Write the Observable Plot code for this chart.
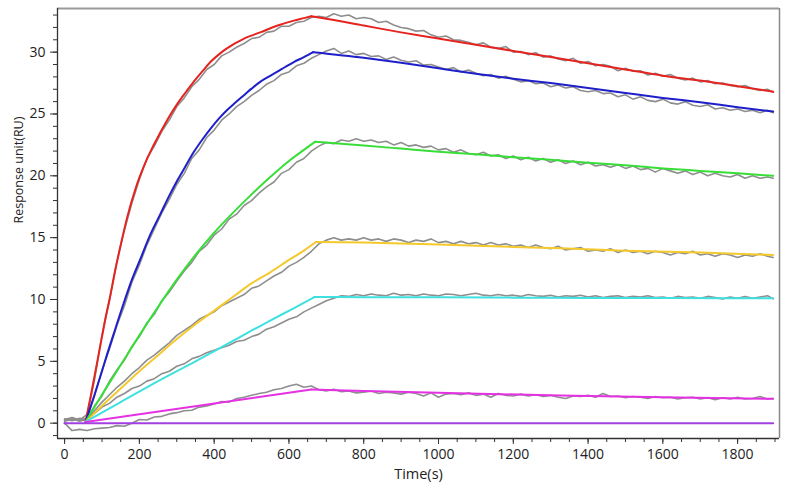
<!DOCTYPE html>
<html>
<head>
<meta charset="utf-8">
<script src="https://cdn.jsdelivr.net/npm/d3@7"></script>
<script src="https://cdn.jsdelivr.net/npm/@observablehq/plot@0.6"></script>
<style>
  html, body { margin: 0; padding: 0; background: #fff; }
  #chart { width: 793px; height: 489px; }
</style>
</head>
<body>
<div id="chart"></div>
<script>
// ---- tick labels ----
const xTickLabels = [0, 200, 400, 600, 800, 1000, 1200, 1400, 1600, 1800];
const xMinorTicks = [0,50,100,150,200,250,300,350,400,450,500,550,600,650,700,750,800,850,900,950,1000,1050,1100,1150,1200,1250,1300,1350,1400,1450,1500,1550,1600,1650,1700,1750,1800,1850,1900];
const yTickLabels = [0, 5, 10, 15, 20, 25, 30];
const yMinorTicks = [-1,0,1,2,3,4,5,6,7,8,9,10,11,12,13,14,15,16,17,18,19,20,21,22,23,24,25,26,27,28,29,30,31,32,33];

// ---- fitted curves (time s, response RU) ----
const redFitT = [56,70,80,90,100,110,120,135,150,167,190,211,235,256,280,301,325,345,370,390,412,434,480,523,570,613,640,660,700,800,900,1000,1100,1200,1300,1400,1500,1600,1700,1800,1895];
const redFitV = [0.1,2.2,3.8,5.4,7.0,8.6,10.0,12.3,14.4,16.6,19.0,20.7,22.3,23.5,24.8,25.8,26.8,27.6,28.5,29.2,29.8,30.3,31.1,31.6,32.15,32.55,32.75,32.9,32.7,32.15,31.6,31.1,30.6,30.1,29.6,29.1,28.6,28.1,27.7,27.25,26.8];
const blueFitT = [56,80,100,114,130,158,180,203,230,256,280,301,320,345,370,390,412,434,456,479,500,523,545,568,590,613,640,665,800,900,1000,1100,1200,1300,1400,1500,1600,1700,1800,1895];
const blueFitV = [0.1,2.3,4.2,5.6,7.1,9.7,11.6,13.3,15.3,16.9,18.4,19.6,20.6,21.9,23.0,23.8,24.6,25.3,25.9,26.5,27.05,27.6,28.0,28.4,28.8,29.2,29.6,30.0,29.55,29.15,28.7,28.25,27.85,27.5,27.1,26.7,26.3,25.95,25.55,25.2];
const greenFitT = [56,100,150,200,250,300,350,400,450,500,550,600,640,670,800,900,1000,1100,1200,1300,1400,1500,1600,1700,1800,1895];
const greenFitV = [0.1,2.3,4.7,7.1,9.4,11.6,13.6,15.4,17.0,18.5,19.9,21.2,22.1,22.75,22.45,22.2,21.95,21.75,21.5,21.3,21.05,20.85,20.6,20.4,20.2,20.0];
const yellowFitT = [56,100,150,200,250,300,350,400,450,500,550,600,640,672,800,1000,1200,1326,1500,1700,1895];
const yellowFitV = [0.1,1.4,2.8,4.2,5.5,6.8,8.0,9.1,10.2,11.3,12.2,13.2,13.95,14.65,14.6,14.45,14.25,14.15,13.95,13.8,13.6];
const cyanFitT = [56,150,250,350,450,550,610,668,800,1000,1200,1400,1600,1895];
const cyanFitV = [0.1,1.7,3.4,5.0,6.65,8.3,9.25,10.2,10.19,10.18,10.15,10.13,10.12,10.1];
const magentaFitT = [56,660,800,1000,1326,1600,1895];
const magentaFitV = [0.1,2.72,2.6,2.45,2.24,2.1,1.97];
const purpleFitT = [0,1895];
const purpleFitV = [0,0];

// ---- measured sensorgrams (gray), sampled every 20 s ----
const grayTime = [0,20,40,60,80,100,120,140,160,180,200,220,240,260,280,300,320,340,360,380,400,420,440,460,480,500,520,540,560,580,600,620,640,660,680,700,720,740,760,780,800,820,840,860,880,900,920,940,960,980,1000,1020,1040,1060,1080,1100,1120,1140,1160,1180,1200,1220,1240,1260,1280,1300,1320,1340,1360,1380,1400,1420,1440,1460,1480,1500,1520,1540,1560,1580,1600,1620,1640,1660,1680,1700,1720,1740,1760,1780,1800,1820,1840,1860,1880,1895];
const redObs = [0.3,0.45,0.25,0.7,3.5,7.1,9.9,13.1,15.6,17.8,
  19.7,21.4,22.4,23.6,24.5,25.6,26.3,27.2,27.8,28.6,
  29.0,29.7,30.0,30.4,30.7,31.1,31.2,31.6,31.7,32.1,
  32.1,32.4,32.5,32.8,32.9,32.8,33.1,32.9,33.0,32.7,
  32.8,32.7,32.4,32.5,32.2,32.0,31.9,31.7,31.75,31.4,
  31.2,31.3,31.0,30.95,30.8,30.6,30.75,30.4,30.3,30.45,
  30.0,30.05,29.8,29.95,29.6,29.7,29.45,29.3,29.5,29.1,
  29.25,28.9,29.0,28.85,28.5,28.7,28.45,28.5,28.15,28.3,
  28.05,28.2,27.9,27.75,27.9,27.6,27.7,27.45,27.5,27.3,
  27.2,27.3,27.05,26.9,27.0,26.75];
const blueObs = [0.2,0.35,0.15,0.4,2.2,4.3,6.0,7.9,9.5,11.4,
  12.8,14.4,15.7,17.0,18.1,19.3,20.2,21.4,22.1,23.1,
  23.7,24.5,25.0,25.6,26.0,26.5,26.9,27.4,27.7,28.2,
  28.4,28.9,29.1,29.5,29.8,30.1,30.3,29.9,30.1,29.8,
  29.9,29.65,29.7,29.4,29.6,29.35,29.2,29.3,28.95,29.0,
  28.8,28.6,28.75,28.4,28.55,28.3,28.1,28.2,27.9,28.05,
  27.8,27.6,27.7,27.45,27.5,27.2,27.35,27.1,27.2,26.9,
  26.8,26.9,26.65,26.7,26.4,26.55,26.2,26.4,26.1,26.0,
  26.2,25.9,25.8,26.0,25.7,25.6,25.75,25.4,25.5,25.3,
  25.4,25.2,25.3,25.1,25.3,25.1];
const greenObs = [0.25,0.4,0.3,0.35,1.4,2.2,3.4,4.3,5.1,6.2,
  7.0,8.1,8.8,9.9,10.6,11.5,12.3,13.0,13.9,14.4,
  15.2,15.7,16.5,16.9,17.6,18.0,18.6,19.1,19.5,20.2,
  20.5,21.1,21.4,22.0,22.4,22.7,22.6,22.9,22.8,23.0,
  22.8,22.9,22.7,22.8,22.5,22.7,22.4,22.5,22.3,22.4,
  22.1,22.2,21.9,22.1,21.8,21.7,21.9,21.6,21.7,21.4,
  21.6,21.3,21.5,21.2,21.4,21.1,21.3,21.0,21.2,20.9,
  21.1,20.8,20.9,20.7,20.9,20.6,20.8,20.5,20.6,20.3,
  20.6,20.4,20.2,20.4,20.1,20.3,20.0,20.2,20.0,19.9,
  20.1,19.8,20.0,19.8,19.9,19.8];
const yellowObs = [0.35,0.2,0.4,0.3,1.0,1.7,2.3,2.9,3.4,4.0,
  4.5,5.1,5.5,6.0,6.5,7.1,7.5,7.9,8.4,8.7,
  9.0,9.5,9.8,10.1,10.4,10.9,11.1,11.5,11.9,12.2,
  12.7,13.0,13.4,13.9,14.5,14.8,15.0,14.8,14.9,14.8,
  15.0,14.8,14.9,14.7,14.9,14.8,14.6,14.8,14.7,14.9,
  14.6,14.7,14.5,14.7,14.5,14.6,14.4,14.6,14.4,14.5,
  14.3,14.4,14.2,14.4,14.2,14.1,14.3,14.0,14.1,14.2,
  13.9,14.0,13.9,14.1,13.8,14.0,13.8,13.9,13.7,13.9,
  13.8,13.6,13.8,13.7,13.9,13.6,13.7,13.5,13.7,13.6,
  13.4,13.6,13.5,13.7,13.5,13.4];
const cyanObs = [0.15,0.3,0.2,0.25,0.8,1.3,1.6,2.1,2.4,2.8,
  3.0,3.4,3.6,4.0,4.2,4.6,4.8,5.2,5.4,5.7,
  5.9,6.1,6.3,6.6,6.7,7.0,7.2,7.6,7.8,8.1,
  8.4,8.6,9.0,9.3,9.6,9.9,10.1,10.3,10.25,10.4,
  10.3,10.45,10.35,10.3,10.5,10.35,10.4,10.3,10.45,10.35,
  10.3,10.45,10.4,10.3,10.4,10.5,10.35,10.3,10.4,10.3,
  10.35,10.25,10.4,10.3,10.25,10.35,10.2,10.3,10.25,10.35,
  10.2,10.3,10.15,10.25,10.3,10.15,10.25,10.2,10.3,10.15,
  10.2,10.1,10.25,10.15,10.2,10.1,10.25,10.15,10.05,10.2,
  10.1,10.25,10.1,10.2,10.3,10.05];
const magentaObs = [0.0,-0.6,-0.5,-0.6,-0.45,-0.4,-0.35,-0.2,-0.25,0.0,
  0.3,0.25,0.5,0.55,0.75,0.85,1.0,1.05,1.3,1.4,
  1.55,1.75,1.7,2.0,2.1,2.25,2.4,2.5,2.7,2.8,
  3.0,3.15,2.9,3.0,2.7,2.6,2.75,2.55,2.6,2.45,
  2.5,2.6,2.4,2.5,2.45,2.35,2.5,2.4,2.2,2.45,
  2.1,2.35,2.4,2.3,2.45,2.25,2.35,2.1,2.4,2.25,
  2.2,2.35,2.2,2.3,2.15,2.25,2.1,2.0,2.2,2.15,
  2.25,2.1,2.4,2.15,2.2,2.05,2.15,2.1,2.0,2.15,
  2.05,2.1,1.95,2.05,2.1,1.95,2.05,1.9,2.05,1.95,
  2.1,1.95,2.0,2.15,1.95,2.0];

// ---- series styling (keys are not colour names so Plot uses the scale) ----
const seriesNames = ["S1", "S2", "S3", "S4", "S5", "S6", "S7"];
const seriesColors = ["#e52420", "#1f1fc9", "#38de38", "#f4c92c", "#3fe0e0", "#e431e4", "#a23fe3"];

// ---- build tables ----
const fits = [
  [redFitT, redFitV], [blueFitT, blueFitV], [greenFitT, greenFitV],
  [yellowFitT, yellowFitV], [cyanFitT, cyanFitV], [magentaFitT, magentaFitV],
  [purpleFitT, purpleFitV]
];
const fitRows = [];
fits.forEach(([T, V], i) => {
  const k = d3.maxIndex(V);
  T.forEach((t, j) => {
    if (j <= k) fitRows.push({t, v: V[j], s: seriesNames[i], seg: seriesNames[i] + "-a"});
    if (j >= k) fitRows.push({t, v: V[j], s: seriesNames[i], seg: seriesNames[i] + "-d"});
  });
});
const obsRows = [];
[redObs, blueObs, greenObs, yellowObs, cyanObs, magentaObs].forEach((arr, i) => {
  arr.forEach((v, j) => obsRows.push({t: grayTime[j], v, s: seriesNames[i]}));
});

const axisColor = "#333";
const chart = Plot.plot({
  width: 793,
  height: 489,
  marginLeft: 57,
  marginRight: 14,
  marginTop: 8,
  marginBottom: 51,
  style: {fontFamily: "'Open Sans', sans-serif", fontSize: "14px", color: "#222", background: "#fff"},
  x: {domain: [-19, 1912]},
  y: {domain: [-1.24, 33.53]},
  color: {domain: seriesNames, range: seriesColors},
  marks: [
    // frame
    Plot.ruleY([33.53], {stroke: "#9a9a9a", strokeWidth: 2}),
    Plot.ruleX([1912], {stroke: "#8a8a8a", strokeWidth: 1.5}),
    // measured data
    Plot.line(obsRows, {x: "t", y: "v", z: "s", stroke: "#8e8e8e", strokeWidth: 1.6}),
    // fits
    Plot.line(fitRows, {x: "t", y: "v", z: "seg", stroke: "s", strokeWidth: 2, curve: "monotone-x"}),
    // axes
    Plot.ruleX([-19], {stroke: axisColor, strokeWidth: 1.3}),
    Plot.ruleY([-1.24], {stroke: axisColor, strokeWidth: 1.3}),
    Plot.axisX(xMinorTicks, {tickSize: 4, tickFormat: () => "", stroke: axisColor, label: null}),
    Plot.axisX(xTickLabels, {tickSize: 6, tickPadding: 5, stroke: axisColor, fill: "#222", label: null, tickFormat: d => String(d)}),
    Plot.axisY(yMinorTicks, {tickSize: 4, tickFormat: () => "", stroke: axisColor, label: null}),
    Plot.axisY(yTickLabels, {tickSize: 7, tickPadding: 5, stroke: axisColor, fill: "#222", label: null, tickFormat: d => String(d)}),
    // axis titles
    Plot.text(["Time(s)"], {frameAnchor: "bottom", dy: 40, fontSize: 14.5, fill: "#222"}),
    Plot.text(["Response unit(RU)"], {frameAnchor: "left", dx: -39, rotate: -90, fontSize: 12.5, fill: "#222"})
  ]
});
document.getElementById("chart").appendChild(chart);
</script>
</body>
</html>
